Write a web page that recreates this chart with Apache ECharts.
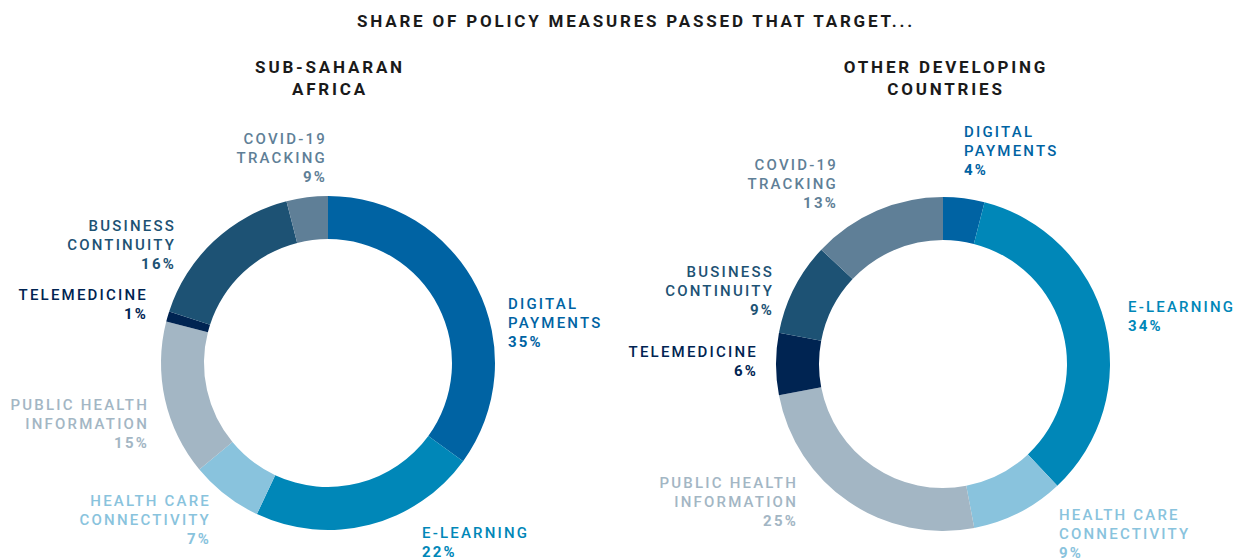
<!DOCTYPE html>
<html>
<head>
<meta charset="utf-8">
<script src="https://cdn.jsdelivr.net/npm/echarts@6/dist/echarts.min.js"></script>
<style>
  html, body { margin: 0; padding: 0; background: #ffffff; }
  #chart { width: 1234px; height: 559px; }
</style>
</head>
<body>
<div id="chart"></div>
<script>
// ---- data ----
const categories = [
  'DIGITAL\nPAYMENTS',
  'E-LEARNING',
  'HEALTH CARE\nCONNECTIVITY',
  'PUBLIC HEALTH\nINFORMATION',
  'TELEMEDICINE',
  'BUSINESS\nCONTINUITY',
  'COVID-19\nTRACKING'
];
const ssaShares = [35, 22, 7, 15, 1, 16, 9];      // Sub-Saharan Africa (%)
const otherShares = [4, 34, 9, 25, 6, 9, 13];     // Other developing countries (%)
const mainTitle = 'SHARE OF POLICY MEASURES PASSED THAT TARGET...';
const panelTitles = ['SUB-SAHARAN\nAFRICA', 'OTHER DEVELOPING\nCOUNTRIES'];

// ---- styles ----
const colors = ['#0063a3', '#0087b8', '#89c3dd', '#a3b6c4', '#002452', '#1d5274', '#5f7f97'];
const centers = [[328, 363], [943, 364]];
// label anchors: [x, top y, align]
const labelAnchors = [
  [[508, 294, 'left'], [422, 523, 'left'], [211, 491, 'right'], [149, 395, 'right'],
   [148, 285, 'right'], [176, 216, 'right'], [327, 129, 'right']],
  [[964, 122, 'left'], [1128, 297, 'left'], [1059, 505, 'left'], [798, 473, 'right'],
   [758, 342, 'right'], [774, 262, 'right'], [838, 155, 'right']]
];

// The chart's slices fill one full circle: a slice is clipped to what remains of 100%.
function arcValues(shares) {
  let used = 0;
  return shares.map(v => { const a = Math.max(0, Math.min(v, 100 - used)); used += a; return a; });
}

function buildSeries(shares, idx) {
  const arcs = arcValues(shares);
  return {
    type: 'pie',
    center: centers[idx],
    radius: [124, 167],
    startAngle: 90,
    clockwise: true,
    avoidLabelOverlap: false,
    silent: true,
    data: categories.map((c, i) => ({
      name: c, value: arcs[i], share: shares[i],
      itemStyle: { color: colors[i] },
      label: {
        rich: {
          n: { color: colors[i], fontSize: 15, fontFamily: 'Roboto', fontWeight: 500, lineHeight: 19 },
          p: { color: colors[i], fontSize: 15, fontFamily: 'Roboto', fontWeight: 'bold', lineHeight: 19 }
        }
      }
    })),
    itemStyle: { borderWidth: 0 },
    label: {
      show: true,
      position: 'outside',
      formatter: p => p.name.split('\n').map(l => '{n|' + l + '}').join('\n') + '\n{p|' + p.data.share + '%}'
    },
    labelLine: { show: false },
    labelLayout: params => {
      const a = labelAnchors[idx][params.dataIndex];
      return { x: a[0], y: a[1], align: a[2], verticalAlign: 'top', hideOverlap: false, moveOverlap: false };
    }
  };
}

const chart = echarts.init(document.getElementById('chart'), null, { renderer: 'svg', width: 1234, height: 559 });
const titleStyle = { fontFamily: 'Roboto', fontWeight: 'bold', fontSize: 17, fill: '#1a1a1a', lineHeight: 22 };
chart.setOption({
  animation: false,
  backgroundColor: '#ffffff',
  graphic: [
    { type: 'text', x: 636, y: 21, style: Object.assign({ text: mainTitle, align: 'center', verticalAlign: 'middle' }, titleStyle) },
    { type: 'text', x: 330, y: 78, style: Object.assign({ text: panelTitles[0], align: 'center', verticalAlign: 'middle' }, titleStyle) },
    { type: 'text', x: 946, y: 78, style: Object.assign({ text: panelTitles[1], align: 'center', verticalAlign: 'middle' }, titleStyle) }
  ],
  series: [buildSeries(ssaShares, 0), buildSeries(otherShares, 1)]
});

function applySpacing() {
  document.querySelectorAll('#chart svg text').forEach(t => {
    const fs = parseFloat(getComputedStyle(t).fontSize) || 12;
    t.style.letterSpacing = fs >= 16 ? '2.8px' : '2.2px';
  });
}
chart.on('finished', applySpacing);
applySpacing();
setTimeout(applySpacing, 50);
</script>
</body>
</html>
